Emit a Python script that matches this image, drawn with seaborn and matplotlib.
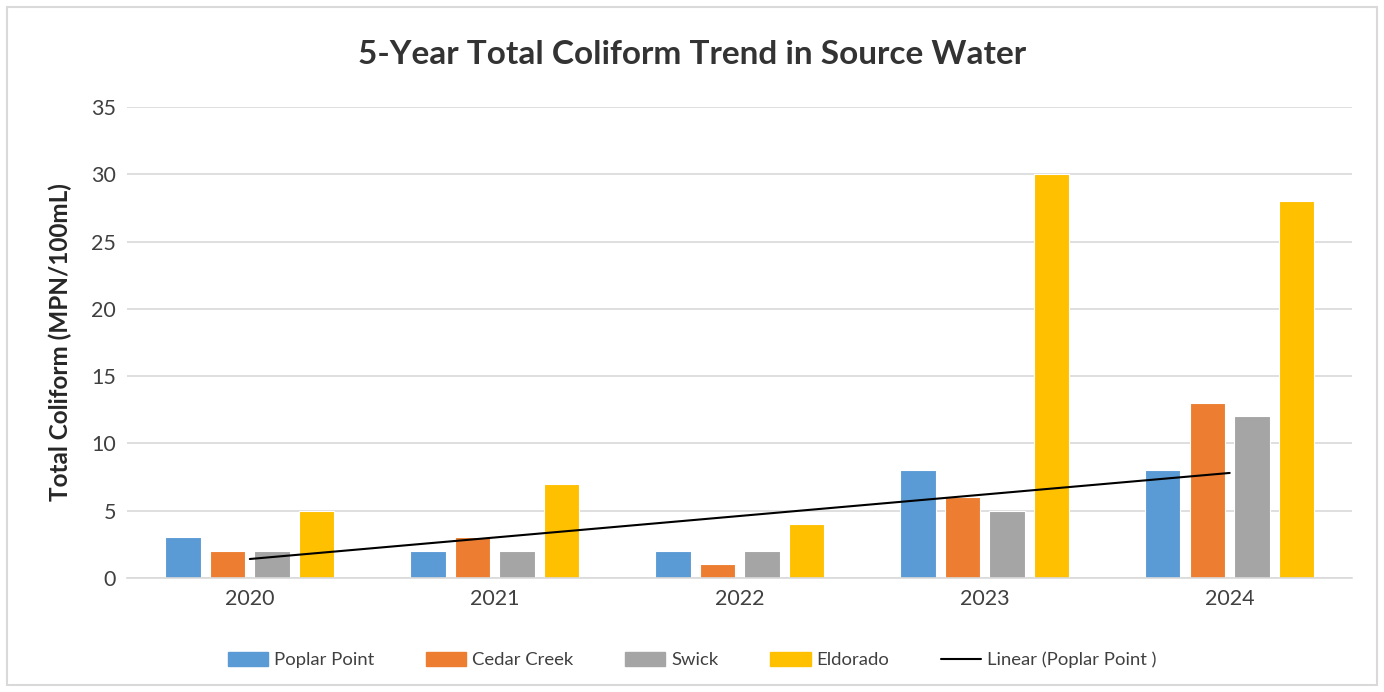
import matplotlib
matplotlib.use("Agg")
import matplotlib.pyplot as plt
from matplotlib.lines import Line2D
from matplotlib.patches import Rectangle
import seaborn as sns
import numpy as np
import pandas as pd

# data
years = ["2020", "2021", "2022", "2023", "2024"]
poplar_point = [3, 2, 2, 8, 8]
cedar_creek = [2, 3, 1, 6, 13]
swick = [2, 2, 2, 5, 12]
eldorado = [5, 7, 4, 30, 28]
sites = ["Poplar Point", "Cedar Creek", "Swick", "Eldorado"]
colors = ["#5B9BD5", "#ED7D31", "#A5A5A5", "#FFC000"]

df = pd.DataFrame({
    "Year": years * 4,
    "Site": np.repeat(sites, len(years)),
    "Value": poplar_point + cedar_creek + swick + eldorado,
})

sns.set_style("white")
plt.rcParams["font.family"] = ["Lato", "DejaVu Sans"]

fig, ax = plt.subplots(figsize=(13.84, 6.92), dpi=100)
fig.subplots_adjust(left=0.092, right=0.977, top=0.845, bottom=0.165)

sns.barplot(data=df, x="Year", y="Value", hue="Site", palette=colors,
            saturation=1, width=0.727, gap=0.21, ax=ax, edgecolor="white",
            linewidth=0.8, legend=False)

# linear trendline for Poplar Point (least squares)
x = np.arange(len(years))
slope, intercept = np.polyfit(x, poplar_point, 1)
ax.plot(x, slope * x + intercept, color="black", lw=1.5, zorder=5)

ax.set_xlim(-0.5, 4.5)
ax.set_ylim(0, 35)
ax.set_yticks(range(0, 36, 5))
ax.yaxis.grid(True, color="#D9D9D9", lw=1.2)
ax.set_axisbelow(True)
for s in ["top", "right", "left"]:
    ax.spines[s].set_visible(False)
ax.spines["bottom"].set_color("#D9D9D9")
ax.spines["bottom"].set_linewidth(1.2)
ax.tick_params(axis="both", length=0, labelsize=15.5, colors="#404040", pad=8)
ax.set_xlabel("")
ax.set_ylabel("Total Coliform (MPN/100mL)", fontsize=17.5, fontweight="bold",
              color="#262626", labelpad=14)
fig.suptitle("5-Year Total Coliform Trend in Source Water", fontsize=24,
             fontweight="bold", color="#333333", y=0.942)

handles = [Rectangle((0, 0), 1, 1, color=c) for c in colors]
handles.append(Line2D([0], [0], color="black", lw=1.5))
labels = sites + ["Linear (Poplar Point )"]
fig.legend(handles, labels, loc="lower center", ncol=5, frameon=False,
           fontsize=13.3, bbox_to_anchor=(0.5, 0.01), handlelength=2.2,
           handleheight=0.75, columnspacing=2.8, handletextpad=0.3,
           labelcolor="#404040")

# light border around the chart area
fig.patches.append(Rectangle((0.005, 0.01), 0.99, 0.98, transform=fig.transFigure,
                             fill=False, edgecolor="#D9D9D9", lw=1.5))

fig.savefig("out.png", dpi=100)
